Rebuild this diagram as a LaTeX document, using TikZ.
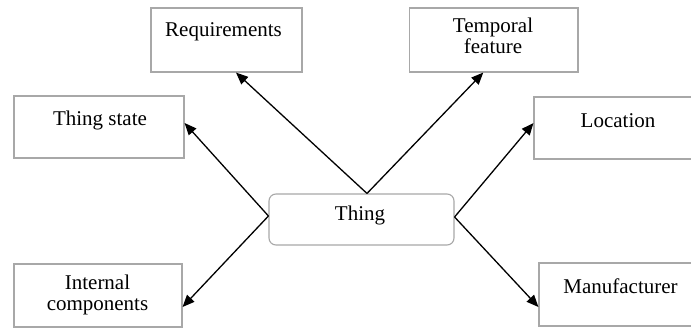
\documentclass[tikz,border=0pt]{standalone}
\usepackage{fontspec}
\setmainfont{Liberation Serif}
\newfontfamily\diagfont{Liberation Serif}
\usetikzlibrary{arrows.meta}
\definecolor{boxgray}{HTML}{A8A8A8}
\begin{document}
\begin{tikzpicture}[x=1pt,y=-1pt,
  box/.style={draw=boxgray,line width=1.1pt,inner sep=0pt,fill=white},
  lbl/.style={font=\diagfont\fontsize{21}{24}\selectfont,inner sep=0pt,anchor=base},
  conn/.style={draw=black,line width=1.3pt,-{Triangle[length=12pt,width=10pt]}}]
\clip (0,0) rectangle (691,329);
\fill[white] (0,0) rectangle (691,329);
% boxes
\node[box,minimum width=151pt,minimum height=64pt] (req) at (226.5,40) {};
\node[box,minimum width=170pt,minimum height=62pt] (ts) at (99,127) {};
\node[box,minimum width=168.5pt,minimum height=64pt] (tf) at (493.75,40) {};
\node[box,minimum width=170pt,minimum height=62pt] (loc) at (619,128) {};
\node[box,minimum width=168pt,minimum height=63pt] (int) at (98,295.5) {};
\node[box,minimum width=170pt,minimum height=63pt] (man) at (624,294.5) {};
\node[box,rounded corners=7pt,minimum width=185pt,minimum height=51pt] (thing) at (361.5,219.5) {};
% labels
\node[lbl] (reqt) at (223.5,37) {Requirements};
\node[lbl] (tst) at (100,125) {Thing state};
\node[lbl] (tft1) at (493,33) {Temporal};
\node[lbl] (tft2) at (493,54) {feature};
\node[lbl] (loct) at (618,127) {Location};
\node[lbl] (intt1) at (97.5,289) {Internal};
\node[lbl] (intt2) at (97.5,310) {components};
\node[lbl] (mant) at (620.5,293) {Manufacturer};
\node[lbl] (thingt) at (360,220) {Thing};
% connectors
\draw[conn] ([xshift=5.5pt]thing.north) -- ([xshift=9.5pt]req.south);
\draw[conn] ([xshift=5.5pt]thing.north) -- ([xshift=-10.5pt]tf.south);
\draw[conn] ([yshift=3.5pt]thing.west) -- ([yshift=4pt]ts.east);
\draw[conn] ([yshift=3.5pt]thing.west) -- ([yshift=-11.5pt]int.east);
\draw[conn] ([yshift=2.5pt]thing.east) -- ([yshift=5pt]loc.west);
\draw[conn] ([yshift=2.5pt]thing.east) -- ([yshift=-12.5pt]man.west);
\end{tikzpicture}
\end{document}
